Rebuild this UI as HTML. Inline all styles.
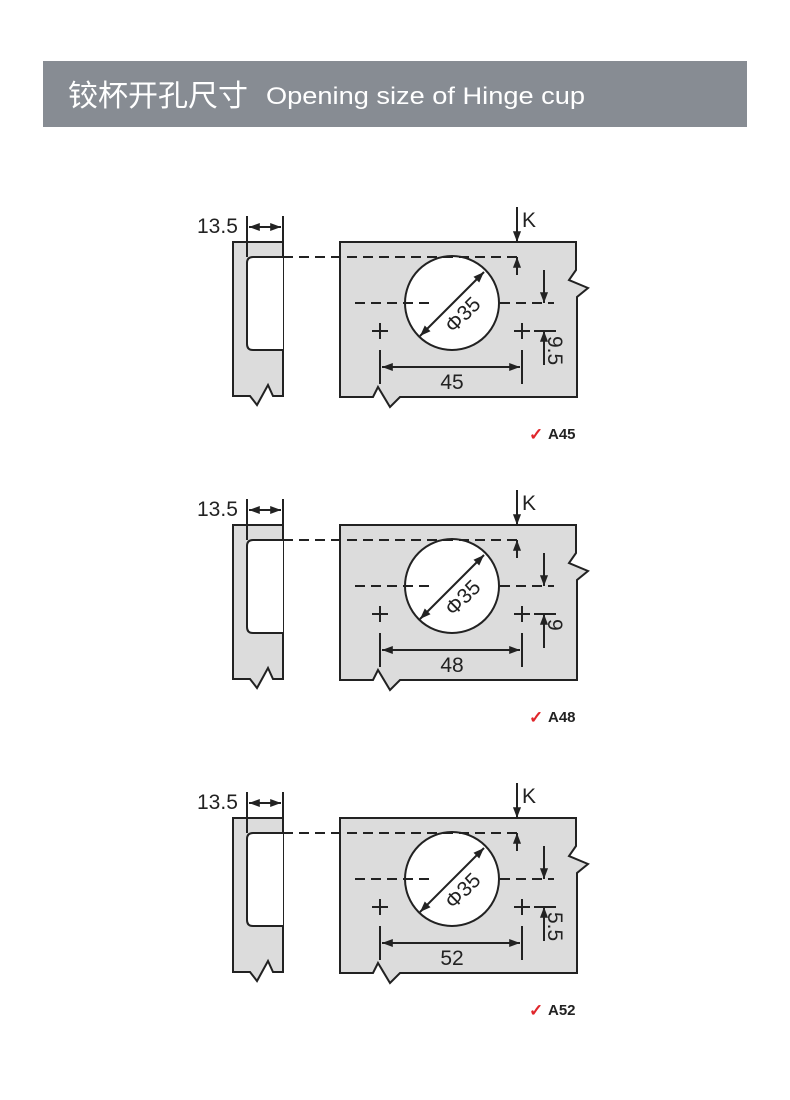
<!DOCTYPE html>
<html><head><meta charset="utf-8"><style>
body{margin:0;background:#fff;width:790px;height:1100px;overflow:hidden}
svg{display:block}
</style></head><body>
<svg width="790" height="1100" viewBox="0 0 790 1100" xmlns="http://www.w3.org/2000/svg" font-family="Liberation Sans, sans-serif">
<defs>
<marker id="a" viewBox="0 0 12 10" refX="12" refY="5" markerWidth="12" markerHeight="9" orient="auto-start-reverse" markerUnits="userSpaceOnUse"><path d="M0,0.5 L12,5 L0,9.5z" fill="#222"/></marker>
<g id="d" stroke="#222" stroke-width="2" fill="none">
<path d="M233,242 H283 V396 H273 L268,385 L257,405 L250,396 H233 Z" fill="#dcdcdc"/>
<path d="M283,257 H253 Q247,257 247,263 V344 Q247,350 253,350 H283" fill="#fff"/>
<path d="M340,242 H576 V270 L569,280 L588,288 L577,297 V397 H400 L390,407 L378,387 L373,397 H340 Z" fill="#dcdcdc"/>
<circle cx="452" cy="303" r="47" fill="#fff"/>
<line x1="247" y1="216" x2="247" y2="257"/><line x1="283" y1="216" x2="283" y2="257"/>
<line x1="249" y1="227" x2="281" y2="227" marker-start="url(#a)" marker-end="url(#a)"/>
<line x1="283" y1="257" x2="522" y2="257" stroke-dasharray="10,6"/>
<line x1="355" y1="303" x2="430" y2="303" stroke-dasharray="10,6"/>
<line x1="500" y1="303" x2="554" y2="303" stroke-dasharray="10,6"/>
<line x1="517" y1="207" x2="517" y2="242" marker-end="url(#a)"/>
<line x1="517" y1="275" x2="517" y2="257" marker-end="url(#a)"/>
<line x1="544" y1="270" x2="544" y2="303" marker-end="url(#a)"/>
<line x1="544" y1="365" x2="544" y2="331" marker-end="url(#a)"/>
<line x1="534" y1="331" x2="556" y2="331"/>
<path d="M372,331 H388 M380,323 V339 M514,331 H530 M522,323 V339"/>
<line x1="380" y1="350" x2="380" y2="384"/><line x1="522" y1="350" x2="522" y2="384"/>
<line x1="382" y1="367" x2="520" y2="367" marker-start="url(#a)" marker-end="url(#a)"/>
<line x1="420" y1="336" x2="484" y2="272" marker-start="url(#a)" marker-end="url(#a)"/>
</g>
<g id="t" fill="#222" font-size="21">
<text x="197" y="233">13.5</text>
<text x="522" y="227">K</text>
<text x="462" y="322" transform="rotate(-45 462 314)" text-anchor="middle">Φ35</text>
</g>
</defs>
<rect x="43" y="61" width="704" height="66" fill="#878c93"/>
<text x="68" y="106" fill="#fff" font-size="30" font-family="Liberation Sans, Noto Sans CJK SC, sans-serif">铰杯开孔尺寸</text>
<text x="266" y="104" fill="#fff" font-size="24" textLength="319" lengthAdjust="spacingAndGlyphs" font-family="Liberation Sans, sans-serif">Opening size of Hinge cup</text>

<g><use href="#d"/><use href="#t"/>
<text x="452" y="389" font-size="21" fill="#222" text-anchor="middle">45</text>
<text x="548" y="336" font-size="21" fill="#222" transform="rotate(90 548 336)">9.5</text>
<text x="529" y="440" font-size="17" font-weight="bold" fill="#e0262b">✓</text>
<text x="548" y="439" font-size="15" font-weight="bold" fill="#222">A45</text></g>

<g transform="translate(0,283)"><use href="#d"/><use href="#t"/>
<text x="452" y="389" font-size="21" fill="#222" text-anchor="middle">48</text>
<text x="548" y="336" font-size="21" fill="#222" transform="rotate(90 548 336)">9</text>
<text x="529" y="440" font-size="17" font-weight="bold" fill="#e0262b">✓</text>
<text x="548" y="439" font-size="15" font-weight="bold" fill="#222">A48</text></g>

<g transform="translate(0,576)"><use href="#d"/><use href="#t"/>
<text x="452" y="389" font-size="21" fill="#222" text-anchor="middle">52</text>
<text x="548" y="336" font-size="21" fill="#222" transform="rotate(90 548 336)">5.5</text>
<text x="529" y="440" font-size="17" font-weight="bold" fill="#e0262b">✓</text>
<text x="548" y="439" font-size="15" font-weight="bold" fill="#222">A52</text></g>
</svg>
</body></html>
